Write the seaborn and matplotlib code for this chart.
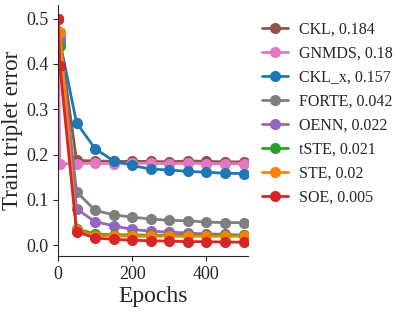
import pandas as pd
import matplotlib
matplotlib.use("Agg")
import matplotlib.pyplot as plt
import seaborn as sns

epochs = [0, 5, 50, 100, 150, 200, 250, 300, 350, 400, 450, 500]

ckl = [0.50, 0.45, 0.187, 0.186, 0.185, 0.185, 0.185, 0.184, 0.186, 0.185, 0.184, 0.184]
gnmds = [0.50, 0.18, 0.180, 0.181, 0.180, 0.181, 0.181, 0.180, 0.181, 0.180, 0.180, 0.180]
ckl_x = [0.50, 0.45, 0.270, 0.213, 0.186, 0.176, 0.168, 0.166, 0.163, 0.161, 0.159, 0.158]
forte = [0.50, 0.45, 0.118, 0.077, 0.067, 0.062, 0.058, 0.055, 0.054, 0.051, 0.050, 0.050]
oenn = [0.50, 0.46, 0.080, 0.052, 0.043, 0.035, 0.031, 0.029, 0.027, 0.025, 0.024, 0.022]
tste = [0.50, 0.44, 0.036, 0.025, 0.023, 0.023, 0.022, 0.022, 0.022, 0.022, 0.022, 0.022]
ste = [0.50, 0.47, 0.034, 0.021, 0.021, 0.020, 0.020, 0.020, 0.020, 0.020, 0.020, 0.020]
soe = [0.50, 0.395, 0.030, 0.016, 0.013, 0.011, 0.010, 0.009, 0.008, 0.008, 0.007, 0.007]

labels = ["CKL, 0.184", "GNMDS, 0.18", "CKL_x, 0.157", "FORTE, 0.042",
          "OENN, 0.022", "tSTE, 0.021", "STE, 0.02", "SOE, 0.005"]
series = [ckl, gnmds, ckl_x, forte, oenn, tste, ste, soe]
colors = ["#8c564b", "#e377c2", "#1f77b4", "#7f7f7f",
          "#9467bd", "#2ca02c", "#ff7f0e", "#d62728"]

rows = []
for lab, vals in zip(labels, series):
    for e, v in zip(epochs, vals):
        rows.append({"method": lab, "Epochs": e, "err": v})
df = pd.DataFrame(rows)

sns.set_style("ticks")
plt.rcParams["font.family"] = ["Liberation Serif", "DejaVu Serif"]

fig = plt.figure(figsize=(4.07, 3.12), dpi=100)
ax = fig.add_axes([0.1425, 0.179, 0.467, 0.805])

sns.lineplot(data=df, x="Epochs", y="err", hue="method", hue_order=labels,
             palette=dict(zip(labels, colors)), marker="o", markersize=8,
             markeredgewidth=0, linewidth=2, ax=ax)

ax.set_xlim(0, 512)
ax.set_ylim(-0.024, 0.53)
ax.set_xticks([0, 200, 400])
ax.set_yticks([0.0, 0.1, 0.2, 0.3, 0.4, 0.5])
ax.set_xlabel("Epochs", fontsize=17, labelpad=2)
ax.set_ylabel("Train triplet error", fontsize=16.5, labelpad=2)
ax.tick_params(labelsize=13)
sns.despine(ax=ax)

ax.legend(loc="upper left", bbox_to_anchor=(1.0, 0.99), frameon=False,
          fontsize=11.5, handlelength=1.6, handletextpad=0.7, labelspacing=0.5)

fig.savefig("out.png", dpi=100)
